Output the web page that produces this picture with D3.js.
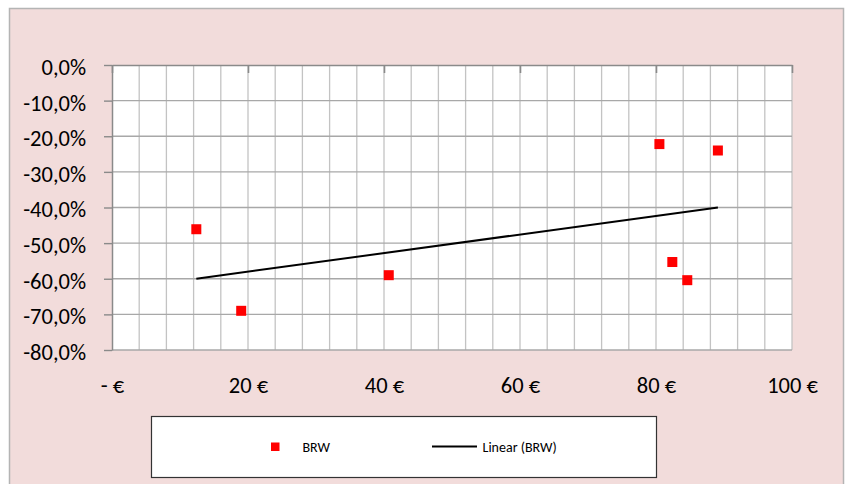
<!DOCTYPE html>
<html>
<head>
<meta charset="utf-8">
<script src="https://cdn.jsdelivr.net/npm/d3@7"></script>
<style>
  body { margin: 0; background: #ffffff; }
  text { font-family: Calibri, Carlito, Lato, sans-serif; fill: #000; }
</style>
</head>
<body>
<script>
// price (EUR) and BRW change for each point
const priceValues = [12.4, 19.0, 40.7, 80.5, 89.1, 82.4, 84.6];
const brwValues = [-0.461, -0.690, -0.590, -0.222, -0.240, -0.553, -0.604];
const xTicks = [0, 20, 40, 60, 80, 100];
const yTicks = [0, -0.1, -0.2, -0.3, -0.4, -0.5, -0.6, -0.7, -0.8];
const seriesName = "BRW";
const trendName = "Linear (BRW)";

const width = 846, height = 484;
const plot = { left: 112, right: 792, top: 65, bottom: 350 };

const locale = d3.formatLocale({ decimal: ",", thousands: ".", grouping: [3], currency: ["", " €"], minus: "-" });
const pct = locale.format(".1%");
const euro = d => d === 0 ? "- €" : d + " €";

const x = d3.scaleLinear().domain([0, 100]).range([plot.left, plot.right]);
const y = d3.scaleLinear().domain([-0.8, 0]).range([plot.bottom, plot.top]);

const svg = d3.select("body").append("svg")
    .attr("width", width)
    .attr("height", height);

// chart area background + border
svg.append("rect")
    .attr("x", 9.5).attr("y", 8.5)
    .attr("width", 834).attr("height", 490)
    .attr("fill", "#f2dcdb")
    .attr("stroke", "#b4b4b4")
    .attr("stroke-width", 1.5);

// plot area
svg.append("rect")
    .attr("x", plot.left).attr("y", plot.top)
    .attr("width", plot.right - plot.left).attr("height", plot.bottom - plot.top)
    .attr("fill", "#ffffff");

// vertical minor gridlines every 4
const grid = svg.append("g");
grid.selectAll("line.v")
    .data(d3.range(4, 101, 4))
    .join("line")
    .attr("class", "v")
    .attr("x1", d => x(d)).attr("x2", d => x(d))
    .attr("y1", plot.top).attr("y2", plot.bottom)
    .attr("stroke", "#c3c3c3")
    .attr("stroke-width", 1.3);

// horizontal gridlines
grid.selectAll("line.h")
    .data(yTicks.slice(1))
    .join("line")
    .attr("class", "h")
    .attr("x1", plot.left).attr("x2", plot.right)
    .attr("y1", d => y(d)).attr("y2", d => y(d))
    .attr("stroke", "#a8a8a8")
    .attr("stroke-width", 1.4);

// y axis (left)
const yAxis = svg.append("g")
    .attr("transform", `translate(${plot.left},0)`)
    .call(d3.axisLeft(y).tickValues(yTicks).tickFormat(pct).tickSize(8).tickSizeOuter(0).tickPadding(18));
yAxis.select(".domain").attr("stroke", "#8a8a8a").attr("stroke-width", 1.5);
yAxis.selectAll(".tick line").attr("stroke", "#8a8a8a").attr("stroke-width", 1.4);
yAxis.selectAll(".tick text")
    .attr("dy", "0.42em")
    .style("font-size", "22.5px");

// x axis line sits at 0% (top), ticks pointing inward
const xAxisTop = svg.append("g")
    .attr("transform", `translate(0,${plot.top})`)
    .call(d3.axisBottom(x).tickValues(xTicks).tickFormat("").tickSize(8).tickSizeOuter(0));
xAxisTop.select(".domain").attr("stroke", "#8a8a8a").attr("stroke-width", 1.6);
xAxisTop.selectAll(".tick line").attr("stroke", "#8a8a8a").attr("stroke-width", 1.6);

// x labels at low position
const xAxisLow = svg.append("g")
    .attr("transform", `translate(0,${plot.bottom})`)
    .call(d3.axisBottom(x).tickValues(xTicks).tickFormat(euro).tickSize(0).tickPadding(27));
xAxisLow.select(".domain").remove();
xAxisLow.selectAll(".tick text").style("font-size", "22.5px");

// linear trend (least squares)
const mx = d3.mean(priceValues), my = d3.mean(brwValues);
const slope = d3.sum(priceValues, (v, i) => (v - mx) * (brwValues[i] - my)) /
              d3.sum(priceValues, v => (v - mx) * (v - mx));
const trendX = d3.extent(priceValues);
const trend = trendX.map(v => [v, my + slope * (v - mx)]);

svg.append("path")
    .datum(trend)
    .attr("d", d3.line().x(d => x(d[0])).y(d => y(d[1])))
    .attr("fill", "none")
    .attr("stroke", "#000")
    .attr("stroke-width", 2);

// markers
const m = 10;
svg.append("g").selectAll("rect")
    .data(priceValues)
    .join("rect")
    .attr("x", (d) => x(d) - m / 2)
    .attr("y", (d, i) => y(brwValues[i]) - m / 2)
    .attr("width", m).attr("height", m)
    .attr("fill", "#ff0000");

// legend
const legend = svg.append("g");
legend.append("rect")
    .attr("x", 151.5).attr("y", 416.5)
    .attr("width", 505).attr("height", 61)
    .attr("fill", "#ffffff")
    .attr("stroke", "#333")
    .attr("stroke-width", 1.2);
legend.append("rect")
    .attr("x", 271).attr("y", 442.5)
    .attr("width", 8.5).attr("height", 8.5)
    .attr("fill", "#ff0000");
legend.append("text")
    .attr("x", 302.5).attr("y", 451.5)
    .style("font-size", "14px")
    .text(seriesName);
legend.append("line")
    .attr("x1", 432).attr("x2", 477)
    .attr("y1", 446.5).attr("y2", 446.5)
    .attr("stroke", "#000").attr("stroke-width", 2);
legend.append("text")
    .attr("x", 482.5).attr("y", 451.5)
    .style("font-size", "14px")
    .text(trendName);
</script>
</body>
</html>
